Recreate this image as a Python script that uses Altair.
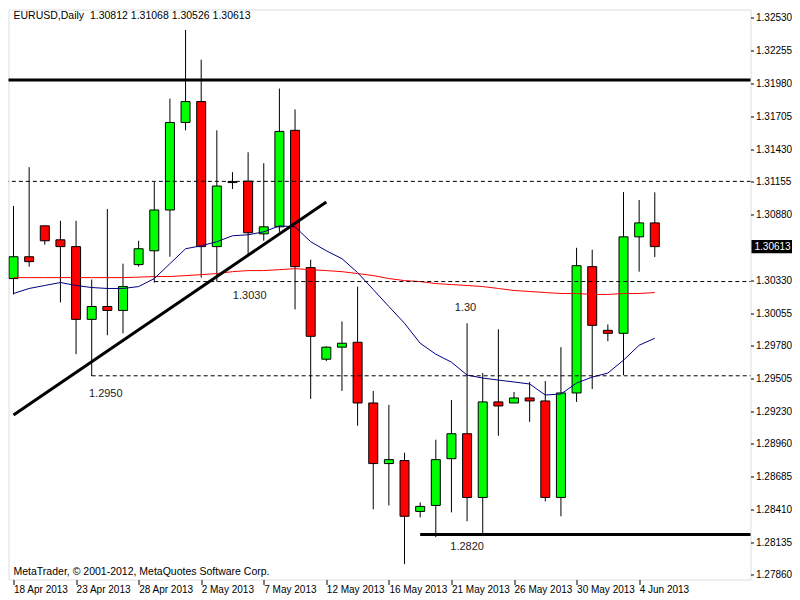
import altair as alt
import pandas as pd

# ---------------- data ----------------
dates = ["18 Apr", "19 Apr", "21 Apr", "22 Apr", "23 Apr", "24 Apr", "25 Apr",
         "26 Apr", "28 Apr", "29 Apr", "30 Apr", "1 May", "2 May", "3 May",
         "5 May", "6 May", "7 May", "8 May", "9 May", "10 May", "12 May",
         "13 May", "14 May", "15 May", "16 May", "17 May", "19 May", "20 May",
         "21 May", "22 May", "23 May", "24 May", "26 May", "27 May", "28 May",
         "29 May", "30 May", "31 May", "2 Jun", "3 Jun", "4 Jun", "5 Jun"]

opens = [1.30345, 1.30528, 1.30787, 1.30670, 1.30613, 1.30003, 1.30111,
         1.30078, 1.30462, 1.30578, 1.30920, 1.31654, 1.31829, 1.30613,
         1.31150, 1.31162, 1.30720, 1.30779, 1.31588, 1.30437, 1.29669,
         1.29770, 1.29811, 1.29302, 1.28794, 1.28819, 1.28393, 1.28443,
         1.28835, 1.29044, 1.28510, 1.29311, 1.29302, 1.29344, 1.29319,
         1.28510, 1.29386, 1.30445, 1.29911, 1.29886, 1.30695, 1.30812]
highs = [1.30954, 1.31279, 1.30787, 1.30829, 1.30829, 1.30337, 1.30929,
         1.30470, 1.30662, 1.31154, 1.31854, 1.32430, 1.32180, 1.31588,
         1.31237, 1.31404, 1.31312, 1.31938, 1.31763, 1.30503, 1.29778,
         1.29986, 1.30278, 1.29403, 1.29286, 1.28885, 1.28468, 1.28994,
         1.29327, 1.29970, 1.29553, 1.29920, 1.29394, 1.29478, 1.29486,
         1.29770, 1.30603, 1.30587, 1.29961, 1.31070, 1.31004, 1.31068]
lows = [1.30212, 1.30445, 1.30629, 1.30145, 1.29711, 1.29528, 1.29870,
        1.29886, 1.30445, 1.30312, 1.30528, 1.31588, 1.30353, 1.30320,
        1.31096, 1.30537, 1.30662, 1.30737, 1.30086, 1.29336, 1.29653,
        1.29403, 1.29111, 1.28410, 1.28443, 1.27951, 1.28343, 1.28177,
        1.28385, 1.28310, 1.28202, 1.29027, 1.29302, 1.29144, 1.28477,
        1.28352, 1.29311, 1.29419, 1.29820, 1.29536, 1.30403, 1.30526]
closes = [1.30528, 1.30487, 1.30662, 1.30613, 1.30003, 1.30111, 1.30078,
          1.30278, 1.30595, 1.30920, 1.31654, 1.31829, 1.30613, 1.31121,
          1.31158, 1.30729, 1.30779, 1.31579, 1.30445, 1.29861, 1.29770,
          1.29803, 1.29302, 1.28794, 1.28827, 1.28352, 1.28435, 1.28827,
          1.29044, 1.28510, 1.29311, 1.29277, 1.29344, 1.29319, 1.28510,
          1.29386, 1.30453, 1.29953, 1.29886, 1.30695, 1.30812, 1.30613]

ma_fast = [1.30220, 1.30262, 1.30287, 1.30312, 1.30287, 1.30270, 1.30262,
           1.30262, 1.30278, 1.30345, 1.30470, 1.30595, 1.30620, 1.30654,
           1.30704, 1.30712, 1.30737, 1.30787, 1.30779, 1.30654, 1.30578,
           1.30512, 1.30395, 1.30253, 1.30111, 1.29970, 1.29803, 1.29711,
           1.29644, 1.29536, 1.29511, 1.29494, 1.29478, 1.29461, 1.29369,
           1.29377, 1.29469, 1.29519, 1.29553, 1.29661, 1.29786, 1.29845]
ma_slow = [1.30353, 1.30353, 1.30353, 1.30353, 1.30353, 1.30353, 1.30353,
           1.30353, 1.30357, 1.30362, 1.30362, 1.30370, 1.30378, 1.30387,
           1.30403, 1.30412, 1.30412, 1.30420, 1.30428, 1.30420, 1.30412,
           1.30403, 1.30387, 1.30370, 1.30345, 1.30328, 1.30320, 1.30303,
           1.30295, 1.30287, 1.30278, 1.30262, 1.30245, 1.30237, 1.30228,
           1.30220, 1.30220, 1.30212, 1.30212, 1.30220, 1.30220, 1.30228]

date_tick_idx = [0, 4, 8, 12, 16, 20, 24, 28, 32, 36, 40]
date_tick_labels = ["18 Apr 2013", "23 Apr 2013", "28 Apr 2013", "2 May 2013",
                    "7 May 2013", "12 May 2013", "16 May 2013", "21 May 2013",
                    "26 May 2013", "30 May 2013", "4 Jun 2013"]
price_ticks = [1.32530, 1.32255, 1.31980, 1.31705, 1.31430, 1.31155, 1.30880,
               1.30330, 1.30055, 1.29780, 1.29505, 1.29230, 1.28960, 1.28685,
               1.28410, 1.28135, 1.27860]

dashed_levels = [1.3116, 1.3032, 1.2953]
dashed_start_idx = [-1, 9, 5]
solid_levels = [1.3201, 1.2820]
solid_start_idx = [-1, 26]

trend_idx = [0, 20]
trend_price = [1.29202, 1.30987]

note_texts = ["1.3030", "1.2950", "1.30", "1.2820"]
note_idx = [15.1, 5.9, 28.9, 29.0]
note_price = [1.30195, 1.29378, 1.30095, 1.28093]

last_price = 1.30613
title_text = "EURUSD,Daily\u00a0\u00a01.30812 1.31068 1.30526 1.30613"
footer_text = "MetaTrader, \u00a9 2001-2012, MetaQuotes Software Corp."

# ---------------- tables ----------------
n = len(dates)
df = pd.DataFrame({
    "idx": list(range(n)), "date": dates, "open": opens, "high": highs,
    "low": lows, "close": closes, "fast": ma_fast, "slow": ma_slow,
})
df["dir"] = ["up" if c >= o else "down" for o, c in zip(opens, closes)]

dashed_df = pd.DataFrame({"start": dashed_start_idx, "end": [48] * len(dashed_levels), "level": dashed_levels})
solid_df = pd.DataFrame({"start": solid_start_idx, "end": [48] * len(solid_levels), "level": solid_levels})
trend_df = pd.DataFrame({"idx": trend_idx, "price": trend_price})
notes_df = pd.DataFrame({"idx": note_idx, "price": note_price, "text": note_texts})
box_df = pd.DataFrame({"p": [last_price], "lo": [last_price - 0.00055],
                       "hi": [last_price + 0.00055], "t": ["%.5f" % last_price]})

FONT = "Liberation Sans"
W, H = 742, 570

X = alt.Scale(domain=[0, 46.8], nice=False, zero=False)
Y = alt.Scale(domain=[1.27822, 1.32601], nice=False, zero=False)

label_expr = "[" + ",".join("'%s'" % s for s in date_tick_labels) + "][round(datum.value / 4)]"

xaxis = alt.Axis(values=date_tick_idx, labelExpr=label_expr, title=None, grid=False,
                 domain=False, tickSize=5, tickColor="black", labelAlign="left",
                 labelBaseline="top", labelPadding=0, labelFlush=False,
                 labelOverlap=False, labelBound=False, labelFontSize=10,
                 labelColor="black", labelFont=FONT)
yaxis = alt.Axis(orient="right", values=price_ticks, format=".5f", title=None,
                 grid=False, domain=False, tickSize=3, tickColor="black",
                 labelPadding=2, labelFontSize=10, labelColor="black",
                 labelFont=FONT, labelOverlap=False, labelFlush=False, labelBound=False)


def xq(field):
    return alt.X(field, scale=X, axis=xaxis)


def yq(field):
    return alt.Y(field, scale=Y, axis=yaxis)


base = alt.Chart(df)

wicks = base.mark_rule(color="black", strokeWidth=1, clip=True).encode(
    x=xq("idx:Q"), y=yq("low:Q"), y2="high:Q")
bodies = base.mark_bar(size=9, stroke="black", strokeWidth=1, clip=True).encode(
    x=xq("idx:Q"), y=yq("open:Q"), y2="close:Q",
    color=alt.Color("dir:N", scale=alt.Scale(domain=["up", "down"], range=["#00ff00", "#ff0000"]), legend=None),
)
slow_line = base.mark_line(color="#ff0000", strokeWidth=1, clip=True).encode(
    x=xq("idx:Q"), y=yq("slow:Q"))
fast_line = base.mark_line(color="#000080", strokeWidth=1, clip=True).encode(
    x=xq("idx:Q"), y=yq("fast:Q"))

dashed = alt.Chart(dashed_df).mark_rule(color="black", strokeWidth=1, strokeDash=[4, 3], clip=True).encode(
    x=xq("start:Q"), x2="end:Q", y=yq("level:Q"))
solid = alt.Chart(solid_df).mark_rule(color="black", strokeWidth=3, clip=True).encode(
    x=xq("start:Q"), x2="end:Q", y=yq("level:Q"))
trend = alt.Chart(trend_df).mark_line(color="black", strokeWidth=3, clip=True).encode(
    x=xq("idx:Q"), y=yq("price:Q"))

notes = alt.Chart(notes_df).mark_text(font=FONT, fontSize=11, color="#222222").encode(
    x=xq("idx:Q"), y=yq("price:Q"), text="text:N")

title = alt.Chart(pd.DataFrame({"t": [title_text]})).mark_text(
    font=FONT, fontSize=10.5, color="black", align="left", baseline="middle").encode(
    x=alt.value(5), y=alt.value(6), text="t:N")
footer = alt.Chart(pd.DataFrame({"t": [footer_text]})).mark_text(
    font=FONT, fontSize=10.5, color="black", align="left", baseline="middle").encode(
    x=alt.value(5), y=alt.value(H - 8), text="t:N")

box = alt.Chart(box_df).mark_rect(color="black", clip=False).encode(
    x=alt.value(W + 1), x2=alt.value(W + 42),
    y=yq("lo:Q"), y2="hi:Q")
box_text = alt.Chart(box_df).mark_text(font=FONT, fontSize=10, color="white",
                                       align="left", baseline="middle", clip=False).encode(
    x=alt.value(W + 4), y=yq("p:Q"), text="t:N")

chart = alt.layer(
    wicks, bodies, slow_line, fast_line, dashed, solid, trend, notes, title, footer, box, box_text
).properties(
    width=W, height=H,
    padding={"left": 0.5, "top": 1.5, "right": 41.5, "bottom": 16},
    autosize=alt.AutoSizeParams(type="none"),
    background="white",
).configure_view(stroke="black", strokeWidth=1).configure(font=FONT)

chart.save("out.html", embed_options={"renderer": "svg", "actions": False})
